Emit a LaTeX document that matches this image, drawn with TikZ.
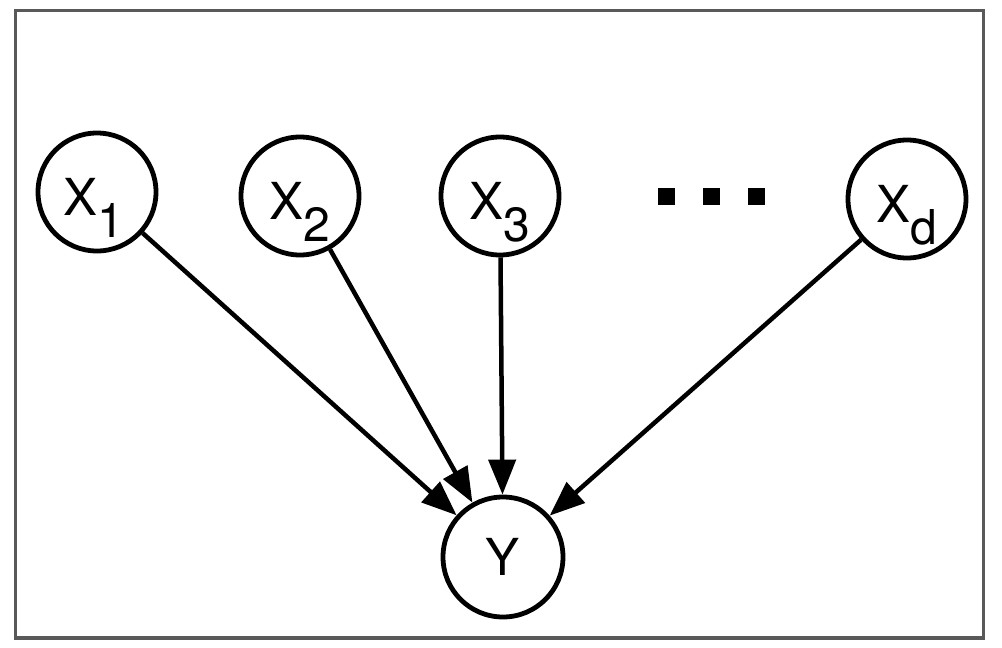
\documentclass[tikz,border=0pt]{standalone}
\usepackage{fontspec}
\setmainfont{TeX Gyre Heros}
\usetikzlibrary{arrows.meta}
\newcommand{\mainsz}{\fontsize{51}{51}\selectfont}
\newcommand{\subsz}[1]{\raisebox{-22pt}{\fontsize{48}{48}\selectfont #1}}
\begin{document}
\begin{tikzpicture}[x=1pt,y=-1pt,
  varnode/.style={circle,draw,line width=4.8pt,minimum size=118pt,inner sep=0pt,font=\mainsz,text height=46pt,text depth=0pt},
  ynode/.style={circle,draw,line width=4.8pt,minimum size=120pt,inner sep=0pt,font=\mainsz},
  edge/.style={line width=4.5pt,-{Triangle[length=35pt,width=27pt]}},
  dotsq/.style={fill=black,minimum size=17pt,inner sep=0pt}]
\useasboundingbox (0,0) rectangle (1002,648);
\fill[white] (0,0) rectangle (1002,648);
\draw[line width=3.5pt,draw=black!65] (15.5,10.5) rectangle (983.5,638);
\node[varnode] (x1) at (97,192) {X\subsz{1}\hspace*{6pt}};
\node[varnode] (x2) at (300,196) {X\subsz{2}};
\node[varnode] (x3) at (500,196) {X\subsz{3}};
\node[varnode] (xd) at (907,199) {X\subsz{d}};
\node[ynode] (y) at (503,557) {Y};
\node[dotsq] (d1) at (666,196) {};
\node[dotsq] (d2) at (711,196) {};
\node[dotsq] (d3) at (756,196) {};
\draw[edge] (x1) -- (y);
\draw[edge] (x2) -- (y);
\draw[edge] (x3) -- (y);
\draw[edge] (xd) -- (y);
\end{tikzpicture}
\end{document}
